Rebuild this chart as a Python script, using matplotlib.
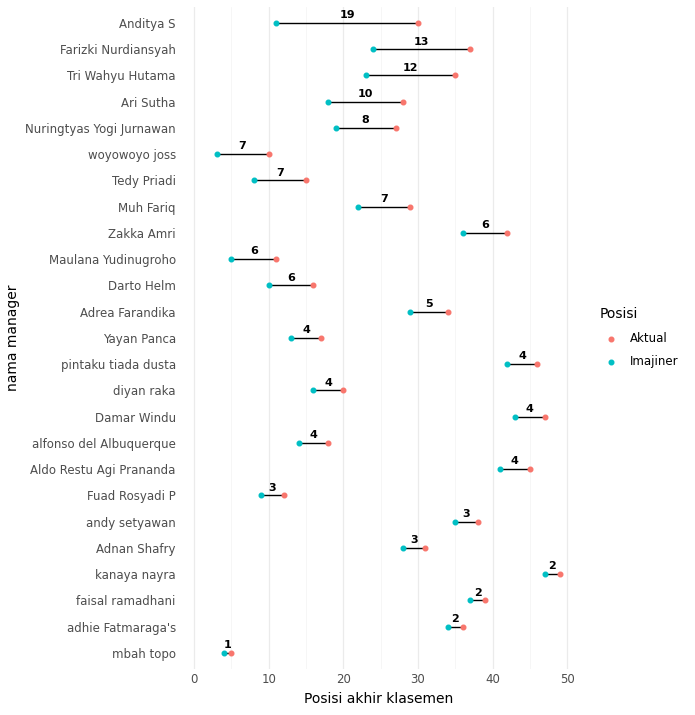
import matplotlib
matplotlib.use("Agg")
import matplotlib.pyplot as plt

managers = ["Anditya S","Farizki Nurdiansyah","Tri Wahyu Hutama","Ari Sutha","Nuringtyas Yogi Jurnawan",
"woyowoyo joss","Tedy Priadi","Muh Fariq","Zakka Amri","Maulana Yudinugroho","Darto Helm",
"Adrea Farandika","Yayan Panca","pintaku tiada dusta","diyan raka","Damar Windu",
"alfonso del Albuquerque","Aldo Restu Agi Prananda","Fuad Rosyadi P","andy setyawan",
"Adnan Shafry","kanaya nayra","faisal ramadhani","adhie Fatmaraga's","mbah topo"]
imajiner = [11,24,23,18,19,3,8,22,36,5,10,29,13,42,16,43,14,41,9,35,28,47,37,34,4]
aktual = [30,37,35,28,27,10,15,29,42,11,16,34,17,46,20,47,18,45,12,38,31,49,39,36,5]

fig = plt.figure(figsize=(6.95,7.15), dpi=100)
ax = fig.add_axes([0.26,0.065,0.57,0.925])
n = len(managers)
ys = [n-1-i for i in range(n)]
for y,a,b in zip(ys,imajiner,aktual):
    ax.plot([a,b],[y,y],color="black",lw=1,zorder=2)
    ax.text((a+b)/2,y+0.1,str(b-a),ha="center",va="bottom",fontsize=8,fontweight="bold",zorder=4)
ax.scatter(aktual,ys,color="#F8766D",s=11,zorder=3,label="Aktual")
ax.scatter(imajiner,ys,color="#00BFC4",s=11,zorder=3,label="Imajiner")
ax.set_yticks(ys)
ax.set_yticklabels(managers,fontsize=8.5,color="#4d4d4d")
ax.set_xticks(range(0,51,10))
ax.set_xticks(range(5,51,10),minor=True)
ax.tick_params(axis='x',labelsize=8.5,colors="#4d4d4d",length=0,which='both')
ax.tick_params(axis='y',length=0)
ax.set_xlim(-1.8,51.3)
ax.set_ylim(-0.6,n-0.4)
ax.grid(axis='x',which='major',color="#ebebeb",lw=0.9)
ax.grid(axis='x',which='minor',color="#f3f3f3",lw=0.5)
ax.set_axisbelow(True)
for s in ax.spines.values(): s.set_visible(False)
ax.set_xlabel("Posisi akhir klasemen",fontsize=10)
ax.set_ylabel("nama manager",fontsize=10)
leg = ax.legend(title="Posisi",loc="center left",bbox_to_anchor=(1.03,0.5),frameon=False,fontsize=8.5,title_fontsize=10,handletextpad=0.6,labelspacing=0.9)
leg._legend_box.align = "left"
fig.savefig("out.png")
